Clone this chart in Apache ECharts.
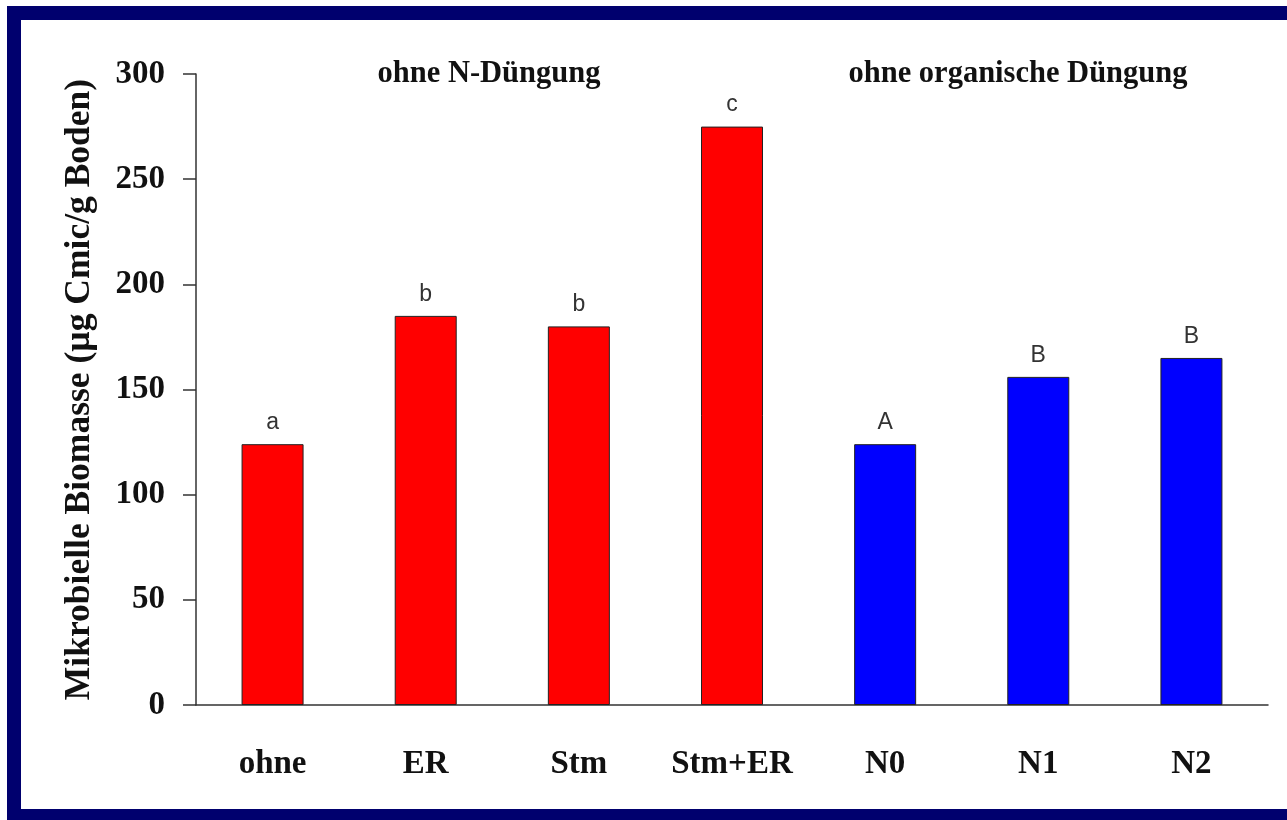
<!DOCTYPE html>
<html>
<head>
<meta charset="utf-8">
<script src="https://cdn.jsdelivr.net/npm/echarts@6/dist/echarts.min.js"></script>
<style>
  html, body { margin: 0; padding: 0; background: #ffffff; }
  #chart { width: 1287px; height: 820px; }
</style>
</head>
<body>
<div id="chart"></div>
<script>
// Treatments on the x axis
const categories = ['ohne', 'ER', 'Stm', 'Stm+ER', 'N0', 'N1', 'N2'];
// Microbial biomass per treatment (µg Cmic / g soil)
const biomass = [124, 185, 180, 275, 124, 156, 165];
// Significance letters written above each bar
const letters = ['a', 'b', 'b', 'c', 'A', 'B', 'B'];
// Which treatment group each bar belongs to (organic vs. mineral N)
const groups = ['org', 'org', 'org', 'org', 'min', 'min', 'min'];
// Y axis ticks
const yTicks = [0, 50, 100, 150, 200, 250, 300];

const groupColor = { org: '#ff0000', min: '#0000ff' };
const serif = '"Liberation Serif", "Times New Roman", serif';
const sans = '"Liberation Sans", Arial, sans-serif';

const chart = echarts.init(document.getElementById('chart'), null, { renderer: 'canvas' });

chart.setOption({
  backgroundColor: '#ffffff',
  animation: false,
  grid: { left: 196, right: 19, top: 74, bottom: 115, containLabel: false },
  xAxis: {
    type: 'category',
    data: categories,
    axisLine: { show: true, lineStyle: { color: '#333', width: 1.5 } },
    axisTick: { show: false },
    axisLabel: {
      interval: 0,
      margin: 43,
      fontFamily: serif,
      fontWeight: 'bold',
      fontSize: 33,
      color: '#111'
    }
  },
  yAxis: {
    type: 'value',
    min: yTicks[0],
    max: yTicks[yTicks.length - 1],
    interval: yTicks[1] - yTicks[0],
    name: 'Mikrobielle Biomasse (µg Cmic/g Boden)',
    nameLocation: 'middle',
    nameRotate: 90,
    nameGap: 98,
    nameTextStyle: {
      fontFamily: serif,
      fontWeight: 'bold',
      fontSize: 35.5,
      color: '#111'
    },
    splitLine: { show: false },
    axisLine: { show: true, lineStyle: { color: '#333', width: 1.5 } },
    axisTick: { show: true, inside: false, length: 13, lineStyle: { color: '#333', width: 1.5 } },
    axisLabel: {
      margin: 31,
      fontFamily: serif,
      fontWeight: 'bold',
      fontSize: 33,
      color: '#111'
    }
  },
  series: [{
    type: 'bar',
    barWidth: 62,
    data: biomass.map((v, i) => ({
      value: v,
      itemStyle: { color: groupColor[groups[i]], borderColor: '#222', borderWidth: 1 },
      label: { formatter: letters[i] }
    })),
    label: {
      show: true,
      position: 'top',
      distance: 10,
      fontFamily: sans,
      fontSize: 23,
      color: '#333'
    }
  }],
  graphic: [
    {
      type: 'rect',
      silent: true,
      shape: { x: 14, y: 13, width: 1300, height: 803 },
      style: { fill: 'none', stroke: '#00006e', lineWidth: 14 }
    },
    {
      type: 'text',
      x: 489,
      y: 74,
      style: {
        text: 'ohne N-Düngung',
        font: 'bold 30.5px ' + serif,
        fill: '#111',
        align: 'center',
        verticalAlign: 'middle'
      }
    },
    {
      type: 'text',
      x: 1018,
      y: 74,
      style: {
        text: 'ohne organische Düngung',
        font: 'bold 30.5px ' + serif,
        fill: '#111',
        align: 'center',
        verticalAlign: 'middle'
      }
    }
  ]
});
</script>
</body>
</html>
